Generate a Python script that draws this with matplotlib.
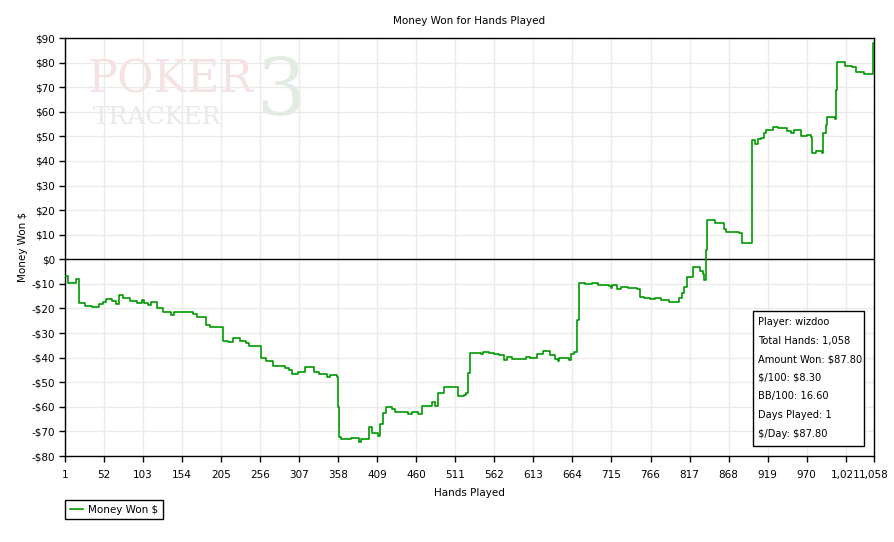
import matplotlib
matplotlib.use("Agg")
import matplotlib.pyplot as plt
from matplotlib.patches import Rectangle
from matplotlib.ticker import FuncFormatter

# hand number where a new running total starts, and that total in $
hands = [1, 5, 15, 19, 27, 36, 46, 50, 55, 62, 68, 72, 77, 86, 95, 101, 104, 110, 113,
         121, 129, 140, 144, 162, 168, 173, 185, 190, 207, 214, 220, 229, 238, 242, 257,
         264, 273, 288, 294, 298, 306, 314, 326, 333, 343, 347, 357, 358, 359, 362, 375,
         385, 388, 398, 402, 410, 413, 416, 420, 428, 432, 449, 455, 462, 468, 481, 484,
         488, 496, 514, 515, 522, 525, 528, 530, 540, 545, 547, 555, 562, 568, 574, 578,
         585, 600, 603, 608, 615, 618, 625, 635, 641, 645, 647, 652, 660, 662, 666, 670,
         672, 680, 690, 698, 712, 714, 716, 722, 728, 736, 749, 752, 758, 765, 772, 780,
         790, 803, 807, 810, 814, 822, 831, 834, 836, 839, 840, 850, 862, 865, 881, 886,
         898, 903, 907, 911, 914, 917, 926, 933, 937, 944, 950, 954, 962, 970, 976, 977,
         982, 990, 992, 995, 997, 1007, 1009, 1010, 1020, 1029, 1034, 1045, 1055, 1057, 1058]
won = [-6.8, -9.7, -8.1, -17.9, -18.8, -19.2, -18.0, -17.2, -16.2, -16.8, -18.1, -14.5, -15.6,
       -16.9, -17.6, -16.6, -17.9, -18.6, -17.5, -19.9, -21.3, -22.6, -21.3, -21.6, -22.2,
       -23.6, -26.7, -27.4, -33.1, -33.5, -31.9, -33.1, -34.2, -35.2, -40.3, -41.2, -43.4,
       -44.3, -45.0, -46.6, -45.9, -43.9, -45.9, -46.8, -47.7, -47.0, -47.7, -60.0, -72.2,
       -73.2, -72.5, -74.2, -73.2, -68.3, -70.8, -71.9, -67.1, -62.6, -60.0, -60.8, -62.2,
       -63.0, -62.2, -63.0, -59.5, -57.9, -59.5, -54.5, -52.1, -52.9, -55.6, -55.2, -54.5,
       -46.4, -38.0, -38.2, -38.5, -37.6, -38.0, -38.5, -39.1, -41.0, -39.6, -40.4, -40.4,
       -39.6, -40.0, -40.2, -38.5, -37.3, -38.8, -40.4, -41.4, -40.0, -40.0, -40.8, -38.5,
       -37.6, -24.7, -9.5, -9.9, -9.7, -10.4, -10.8, -11.8, -10.6, -12.2, -11.3, -11.5,
       -12.2, -15.2, -15.6, -16.2, -15.8, -16.4, -17.2, -15.8, -13.8, -11.2, -7.3, -3.2,
       -4.8, -6.0, -8.4, 3.8, 16.0, 14.7, 12.3, 11.3, 10.6, 6.5, 48.6, 46.8, 48.9, 49.4,
       51.3, 52.7, 54.0, 53.6, 53.4, 52.3, 51.3, 52.7, 50.2, 50.6, 49.8, 43.4, 44.0, 43.4,
       51.3, 54.7, 57.8, 57.0, 68.9, 80.2, 78.7, 78.2, 76.0, 75.5, 75.2, 87.8, 87.8]

x_ticks = list(range(1, 1022, 51)) + [1058]
y_ticks = list(range(-80, 91, 10))

stats = ["Player: wizdoo", "Total Hands: 1,058", "Amount Won: $87.80", "$/100: $8.30",
         "BB/100: 16.60", "Days Played: 1", "$/Day: $87.80"]

plt.rcParams['font.family'] = ['DejaVu Sans']
fig = plt.figure(figsize=(8.95, 5.42), dpi=100)
W, H = 895, 542
ax = fig.add_axes([65 / W, 1 - 456 / H, (874 - 65) / W, (456 - 38) / H])

# faint watermark
fig.text(88 / W, 1 - 80 / H, "POKER", fontsize=32, family='DejaVu Serif', color='#f5e2e2',
         va='center', ha='left')
fig.text(93 / W, 1 - 117 / H, "TRACKER", fontsize=18, family='DejaVu Serif',
         color='#e6ebe6', va='center', ha='left')
fig.text(256 / W, 1 - 92 / H, "3", fontsize=56, family='DejaVu Serif', color='#e3ece3',
         va='center', ha='left')

ax.step(hands, won, where='post', color='#009900', lw=1.2, label='Money Won $', zorder=3)
ax.axhline(0, color='black', lw=1, zorder=2)

ax.set_xlim(1, 1058)
ax.set_ylim(-80, 90)
ax.set_xticks(x_ticks)
ax.set_yticks(y_ticks)
ax.xaxis.set_major_formatter(FuncFormatter(lambda v, p: f"{int(v):,}"))
ax.yaxis.set_major_formatter(FuncFormatter(lambda v, p: f"${int(v)}" if v >= 0 else f"-${int(-v)}"))
ax.tick_params(labelsize=7.5, length=4, width=1, direction='out')
ax.tick_params(axis='x', pad=6)
ax.tick_params(axis='y', pad=3)
ax.grid(True, color='#ebebeb', lw=1)
ax.set_axisbelow(True)
for s in ax.spines.values():
    s.set_linewidth(1)

ax.set_title("Money Won for Hands Played", fontsize=7.5, pad=10)
ax.set_xlabel("Hands Played", fontsize=7.5, labelpad=6)
ax.set_ylabel("Money Won $", fontsize=7.5, labelpad=3)

# stats box
fig.add_artist(Rectangle((753 / W, 1 - 446 / H), (864 - 753) / W, (446 - 311) / H,
                         transform=fig.transFigure, facecolor='white', edgecolor='black',
                         lw=1, zorder=5))
for i, s in enumerate(stats):
    fig.text(758 / W, 1 - (322 + i * 18.6) / H, s, fontsize=7.1, va='center', ha='left',
             parse_math=False, zorder=6)

leg = fig.legend(loc='upper left', bbox_to_anchor=(65 / W, 1 - 500 / H), fontsize=7.5,
                 fancybox=False, edgecolor='black', framealpha=1, handlelength=1.3,
                 borderpad=0.45, handletextpad=0.5, borderaxespad=0)
leg.get_frame().set_linewidth(1)

fig.savefig("out.png", dpi=100)
